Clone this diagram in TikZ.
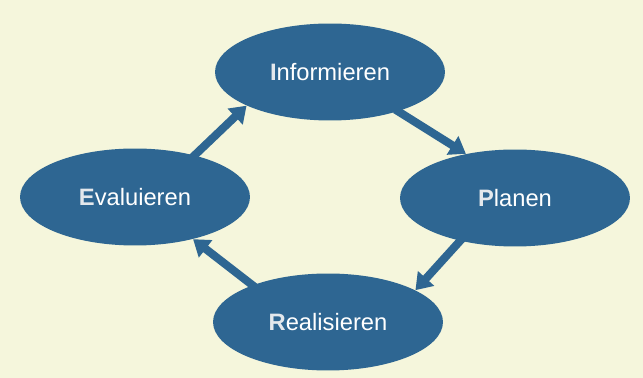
\documentclass[tikz,border=0pt]{standalone}
\usepackage{fontspec}
\setmainfont{Liberation Sans}
\usetikzlibrary{shapes.geometric,arrows.meta}
\definecolor{paper}{RGB}{245,246,220}
\definecolor{phase}{RGB}{46,102,146}
\definecolor{initial}{RGB}{228,232,236}
\begin{document}
\begin{tikzpicture}[x=0.02cm, y=-0.02cm,
            phasebox/.style={ellipse, fill=phase, text=white, minimum width=4.6cm, minimum height=1.94cm, inner sep=0pt, font=\fontsize{13.5}{15}\selectfont},
            flow/.style={draw=phase, line width=4.6pt, -{Triangle[length=9pt, width=12pt]}, shorten <=-2pt}
        ]
            \fill[paper] (0,0) rectangle (643,378);
            \node[phasebox] (inf) at (330, 72) {\textcolor{initial}{\textbf{I}}nformieren};
            \node[phasebox] (pla) at (515,198) {\textcolor{initial}{\textbf{P}}lanen};
            \node[phasebox] (rea) at (328,322) {\textcolor{initial}{\textbf{R}}ealisieren};
            \node[phasebox] (eva) at (135,197) {\textcolor{initial}{\textbf{E}}valuieren};
            \draw[flow] (eva.35) -- (inf.202);
            \draw[flow] (inf.-30) -- (pla.138);
            \draw[flow] (pla.218) -- (rea.20);
            \draw[flow] (rea.154) -- (eva.-36);
        \end{tikzpicture}
\end{document}
